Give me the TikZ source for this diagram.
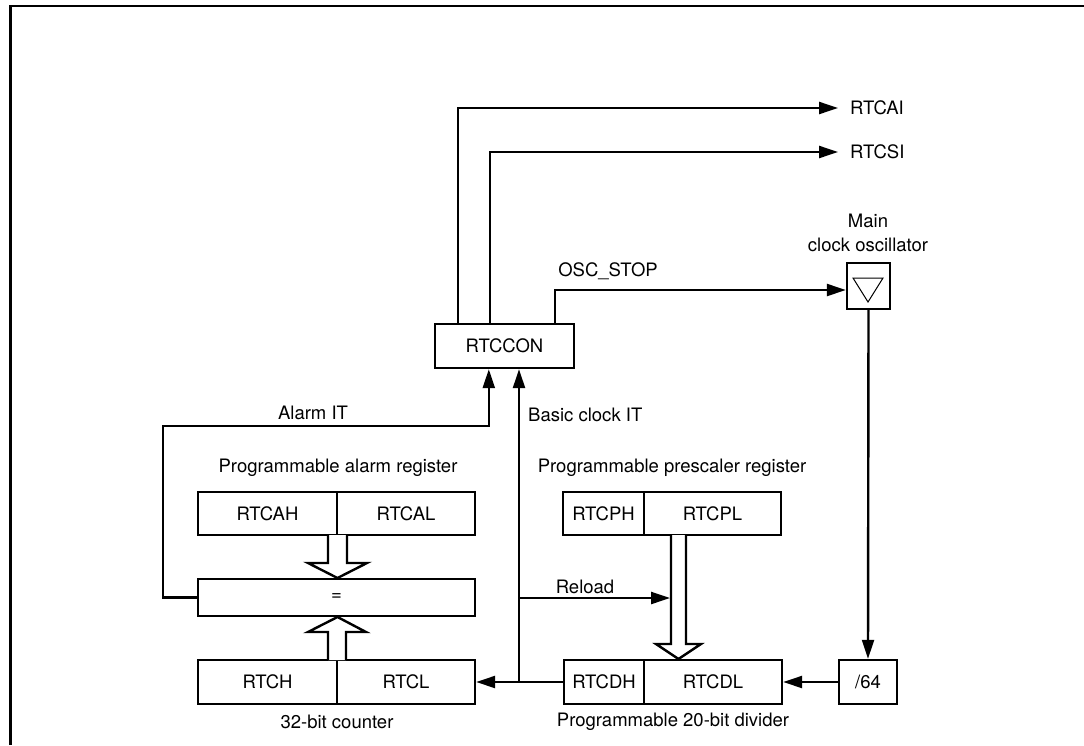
\documentclass[tikz,border=0pt]{standalone}
\usepackage{fontspec}
\setmainfont{TeX Gyre Heros}
\usetikzlibrary{arrows.meta,calc}

\begin{document}
\begin{tikzpicture}[x=1pt,y=-1pt,
  font=\fontsize{18.5}{24}\selectfont,
  reg/.style={draw,line width=2.4pt,minimum height=43pt,inner sep=0pt},
  lbl/.style={inner sep=0pt},
  arr/.style={-{Triangle[length=19pt,width=12pt]},line width=2.4pt},
  hollow/.style={draw,line width=2.4pt,fill=white}]
\useasboundingbox (0,0) rectangle (1084,745);

% frame
\draw[line width=2.4pt] (10.5,745) -- (10.5,6) -- (1084,6);

% registers
\node[reg,minimum width=139pt,minimum height=44pt] (rtccon) at (504.5,346) {RTCCON};
\node[reg,minimum width=43pt,minimum height=46pt] (osc) at (868.5,286) {};
\node[reg,minimum width=58pt,minimum height=44pt] (div64) at (868,682) {/64};

\node[reg,minimum width=139pt] (rtcah) at (267.5,513.5) {RTCAH};
\node[reg,minimum width=138pt] (rtcal) at (406,513.5) {RTCAL};
\node[reg,minimum width=277pt,minimum height=37pt] (eq) at (336.5,597.5) {=};
\node[reg,minimum width=139pt,minimum height=44pt] (rtch) at (267.5,682) {RTCH};
\node[reg,minimum width=138pt,minimum height=44pt] (rtcl) at (406,682) {RTCL};

\node[reg,minimum width=81pt] (rtcph) at (603.5,513.5) {RTCPH};
\node[reg,minimum width=137pt] (rtcpl) at (712.5,513.5) {RTCPL};
\node[reg,minimum width=80pt,minimum height=44pt] (rtcdh) at (604,682) {RTCDH};
\node[reg,minimum width=138pt,minimum height=44pt] (rtcdl) at (713,682) {RTCDL};

% oscillator symbol
\draw[line width=1pt] (853,278) -- (883,278) -- (868,302) -- cycle;

% labels
\node[lbl,anchor=west] (rtcai) at (850,108) {RTCAI};
\node[lbl,anchor=west] (rtcsi) at (850,152) {RTCSI};
\node[lbl] (oscstop) at (608,271) {OSC\_STOP};
\node[lbl,align=center] (mainosc) at (868,233) {Main\\clock oscillator};
\node[lbl] (alarmit) at (313,413) {Alarm IT};
\node[lbl,anchor=west] (basicit) at (528,415) {Basic clock IT};
\node[lbl] (alarmreg) at (338,468) {Programmable alarm register};
\node[lbl] (prescreg) at (672,468) {Programmable prescaler register};
\node[lbl] (reload) at (585,587) {Reload};
\node[lbl] (counter) at (337,722) {32-bit counter};
\node[lbl] (divider) at (673,722) {Programmable 20-bit divider};

% outputs of RTCCON
\draw[arr] ($(rtccon.north west)+(24,0)$) |- ([xshift=-12pt]rtcai.west);
\draw[arr] ($(rtccon.north west)+(56,0)$) |- ([xshift=-12pt]rtcsi.west);
\draw[arr] ($(rtccon.north west)+(121,0)$) |- ($(osc.west)+(0,4)$);

% clock path
\draw[arr] (osc.south) -- (div64.north);
\draw[arr] (div64.west) -- (rtcdl.east);
\draw[arr] (rtcdh.west) -- (rtcl.east);

\coordinate (tap) at (519,682);
\draw[arr] (tap) -- (tap |- rtccon.south);
\draw[arr] (tap |- 0,598) -- (670,598);

% alarm IT
\draw[arr] (eq.west) -- (163,597.5) -- (163,426) -| ($(rtccon.south west)+(55,0)$);

% wide arrows
\draw[hollow] (328,535) -- (328,563) -- (308,563) -- (337.5,578) -- (367,563) -- (347,563) -- (347,535);
\draw[hollow] (328,660) -- (328,632) -- (308,632) -- (337.5,617) -- (366,632) -- (346,632) -- (346,660);
\draw[hollow] (671,535) -- (671,644) -- (656,644) -- (678.5,659) -- (701,644) -- (686,644) -- (686,535);
\end{tikzpicture}
\end{document}
